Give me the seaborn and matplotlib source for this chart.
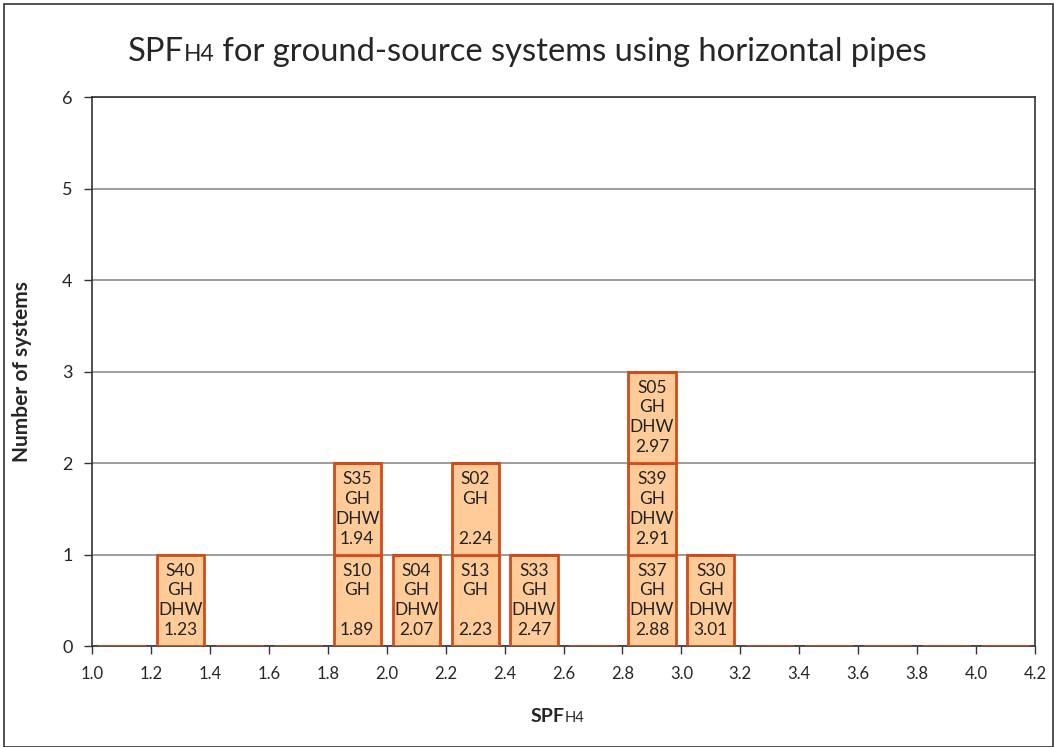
import seaborn as sns
import matplotlib.pyplot as plt
import matplotlib.patches as mpatches
import pandas as pd
import numpy as np

# systems and their SPF H4 values
systems = ['S40', 'S10', 'S35', 'S04', 'S13', 'S02', 'S33', 'S37', 'S39', 'S05', 'S30']
spf_values = [1.23, 1.89, 1.94, 2.07, 2.23, 2.24, 2.47, 2.88, 2.91, 2.97, 3.01]
has_dhw = [True, False, True, True, False, False, True, True, True, True, True]
bin_edges = np.round(np.arange(1.0, 4.21, 0.2), 1)
y_ticks = [0, 1, 2, 3, 4, 5, 6]

fill_color = '#FFCC99'
edge_color = '#D24B1A'

df = pd.DataFrame({'system': systems, 'spf': spf_values, 'dhw': has_dhw})
df['bin'] = pd.cut(df['spf'], bins=bin_edges, right=False, labels=False)
df = df.sort_values(['bin', 'spf'])
df['level'] = df.groupby('bin').cumcount()

sns.set_style('white')
plt.rcParams['font.family'] = ['Lato', 'DejaVu Sans']

fig = plt.figure(figsize=(10.54, 7.47), dpi=100)
ax = fig.add_axes([0.0873, 0.135, 0.8947, 0.735])

sns.histplot(data=df, x='spf', hue='system', hue_order=list(df['system']), multiple='stack',
             bins=bin_edges, shrink=0.8, palette=[fill_color] * len(df),
             edgecolor=edge_color, linewidth=2, alpha=1, legend=False, ax=ax, zorder=3)

bin_w = bin_edges[1] - bin_edges[0]
for _, row in df.iterrows():
    xc = bin_edges[int(row['bin'])] + bin_w / 2
    label = f"{row['system']}\nGH\n{'DHW' if row['dhw'] else ''}\n{row['spf']:.2f}"
    ax.text(xc, row['level'] + 0.5, label, ha='center', va='center', fontsize=12.5,
            linespacing=1.3, color='#222222', zorder=4)

ax.set_xlim(1.0, 4.2)
ax.set_ylim(0, 6)
ax.set_xticks(bin_edges)
ax.set_xticklabels([f'{v:.1f}' for v in bin_edges], fontsize=12)
ax.set_yticks(y_ticks)
ax.set_yticklabels([str(v) for v in y_ticks], fontsize=13)
ax.yaxis.grid(True, color='#8c8c8c', linewidth=1.2, zorder=0)
ax.set_axisbelow(True)
for s in ax.spines.values():
    s.set_color('#333333')
    s.set_linewidth(1.2)
ax.tick_params(axis='both', direction='out', length=6, width=1, color='#333333',
               left=True, bottom=True, pad=8)
ax.set_xlabel('')
ax.set_ylabel('Number of systems', fontsize=15, fontweight='bold', labelpad=22)

renderer = fig.canvas.get_renderer()


def mixed_text(x, y, parts):
    # parts: (text, size, weight) placed side by side on one baseline
    for txt, size, weight in parts:
        t = fig.text(x, y, txt, fontsize=size, fontweight=weight, va='baseline')
        w = t.get_window_extent(renderer).width
        x += w / fig.bbox.width


mixed_text(0.121, 0.918, [('SPF', 23.6, 'normal'), ('H4', 16.5, 'normal'),
                          (' for ground-source systems using horizontal pipes', 23.6, 'normal')])
mixed_text(0.503, 0.033, [('SPF', 14, 'bold'), ('H4', 10.5, 'normal')])

fig.patches.append(mpatches.Rectangle((0.004, 0.0), 0.995, 0.994, transform=fig.transFigure,
                                      fill=False, edgecolor='#333333', linewidth=1.2))

plt.savefig('out.png', dpi=100)
